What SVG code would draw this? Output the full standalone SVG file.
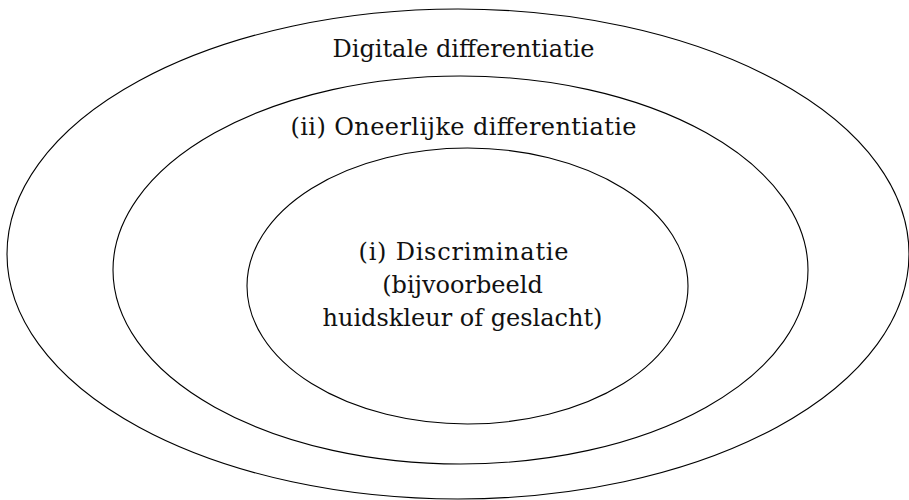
<svg xmlns="http://www.w3.org/2000/svg" width="909" height="500" viewBox="0 0 909 500">
<style>
.ring{fill:none;stroke:#000;stroke-width:1.1}
.lbl{font-family:"DejaVu Serif","Liberation Serif",serif;font-size:24px;fill:#111;text-anchor:middle}
</style>
<rect width="909" height="500" fill="#fff"/>
<g id="outer">
<ellipse class="ring" cx="458" cy="254" rx="451" ry="245"/>
<text class="lbl" x="463.5" y="57">Digitale differentiatie</text>
</g>
<g id="middle">
<ellipse class="ring" cx="460.5" cy="270" rx="347.5" ry="194"/>
<text class="lbl" x="463.5" y="135" textLength="346" lengthAdjust="spacing">(ii) Oneerlijke differentiatie</text>
</g>
<g id="inner">
<ellipse class="ring" cx="467.5" cy="286" rx="220.5" ry="138"/>
<text class="lbl" x="463.5" y="260" textLength="210" lengthAdjust="spacing">(i) Discriminatie</text>
<text class="lbl" x="462.5" y="293">(bijvoorbeeld</text>
<text class="lbl" x="462.5" y="326">huidskleur of geslacht)</text>
</g>
<g id="connectors"/>
</svg>
